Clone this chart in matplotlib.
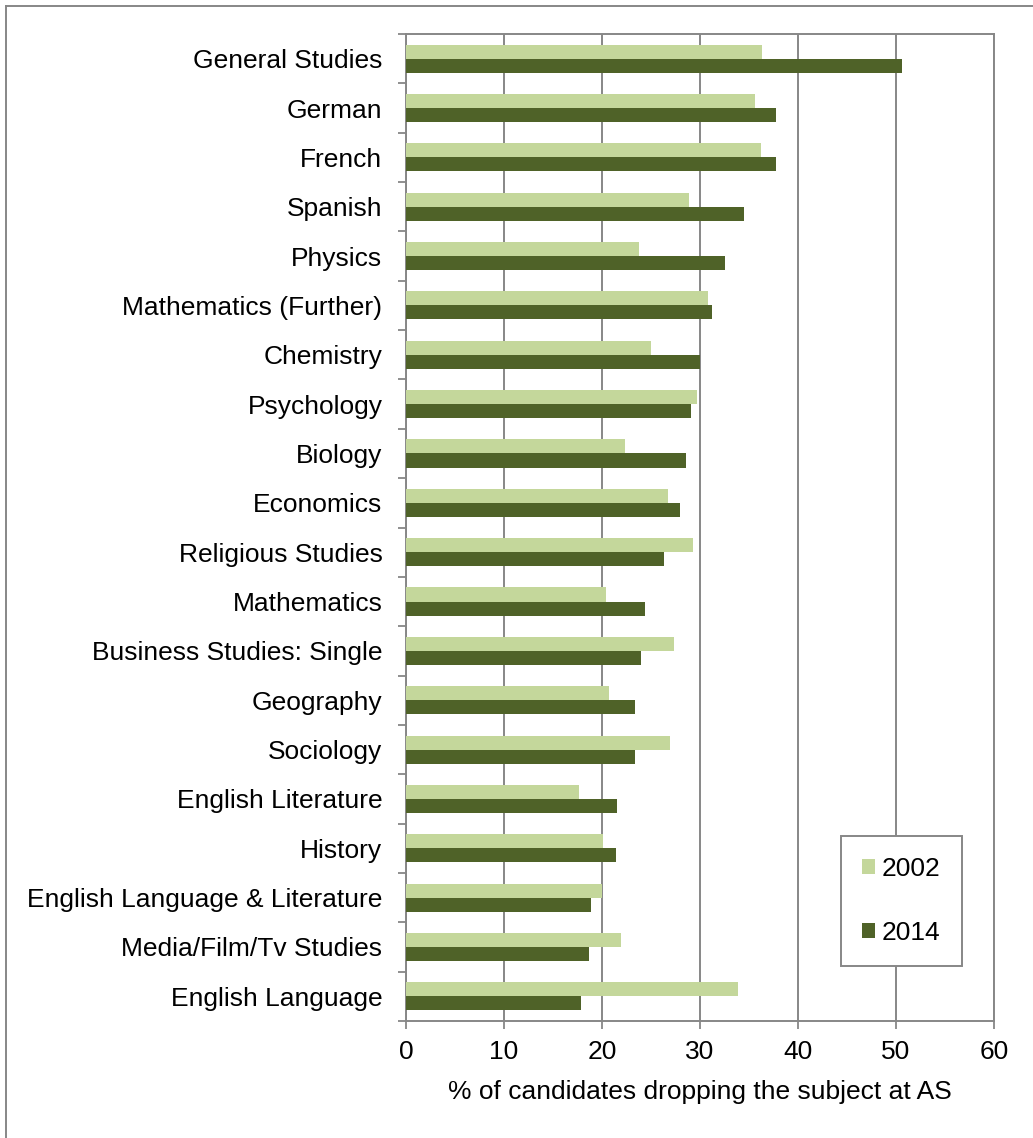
import numpy as np
import matplotlib
matplotlib.use('Agg')
import matplotlib.pyplot as plt
from matplotlib.lines import Line2D

# ── Data (top to bottom) ──
subjects = ['General Studies', 'German', 'French', 'Spanish', 'Physics',
            'Mathematics (Further)', 'Chemistry', 'Psychology', 'Biology',
            'Economics', 'Religious Studies', 'Mathematics',
            'Business Studies: Single', 'Geography', 'Sociology',
            'English Literature', 'History', 'English Language & Literature',
            'Media/Film/Tv Studies', 'English Language']
drop_2002 = [36.3, 35.6, 36.2, 28.9, 23.8, 30.8, 25.0, 29.7, 22.3, 26.7,
             29.3, 20.4, 27.3, 20.7, 26.9, 17.7, 20.1, 20.0, 21.9, 33.9]
drop_2014 = [50.6, 37.8, 37.8, 34.5, 32.6, 31.2, 30.0, 29.1, 28.6, 28.0,
             26.3, 24.4, 24.0, 23.4, 23.4, 21.5, 21.4, 18.9, 18.7, 17.9]
series_labels = ['2002', '2014']
xticks = [0, 10, 20, 30, 40, 50, 60]

light = '#C4D79B'
dark = '#4F6228'
grey = '#878787'

plt.rcParams['font.family'] = ['Liberation Sans', 'DejaVu Sans']
plt.rcParams['font.size'] = 19

fig = plt.figure(figsize=(10.33, 11.38), dpi=100)
ax = fig.add_axes([406 / 1033, 1 - 1021 / 1138, 588 / 1033, 987 / 1138])

y = np.arange(len(subjects))
h = 0.285
ax.barh(y - h / 2, drop_2002, height=h, color=light, label=series_labels[0], zorder=3)
ax.barh(y + h / 2, drop_2014, height=h, color=dark, label=series_labels[1], zorder=3)

ax.set_ylim(len(subjects) - 0.5, -0.5)
ax.set_xlim(0, 60)
ax.set_xticks(xticks)

# category labels on major ticks, tick marks at the boundaries
ax.set_yticks(y)
ax.set_yticklabels(subjects)
ax.set_yticks(np.arange(-0.5, len(subjects), 1.0), minor=True)
ax.tick_params(axis='y', which='major', length=0, pad=17)
ax.tick_params(axis='y', which='minor', length=6, width=1.3, color=grey)
ax.tick_params(axis='x', length=6, width=1.3, color=grey, pad=8)

ax.grid(axis='x', color=grey, linewidth=1.4, zorder=0)
ax.set_axisbelow(True)
for s in ax.spines.values():
    s.set_color(grey)
    s.set_linewidth(1.4)

ax.set_xlabel('% of candidates dropping the subject at AS', labelpad=11)

leg = ax.legend(loc='upper left', bbox_to_anchor=(0.740, 0.1874),
                borderaxespad=0, fancybox=False, framealpha=1,
                edgecolor=grey, handlelength=0.5, handleheight=0.5,
                handletextpad=0.25, labelspacing=1.5, borderpad=0.8)
leg.get_frame().set_linewidth(1.4)

# outer chart frame (top and left edges)
fig.add_artist(Line2D([6 / 1033, 6 / 1033], [0, 1 - 6 / 1138],
                      transform=fig.transFigure, color=grey, linewidth=1.4))
fig.add_artist(Line2D([6 / 1033, 1], [1 - 6 / 1138, 1 - 6 / 1138],
                      transform=fig.transFigure, color=grey, linewidth=1.4))

fig.savefig('out.png', dpi=100)
